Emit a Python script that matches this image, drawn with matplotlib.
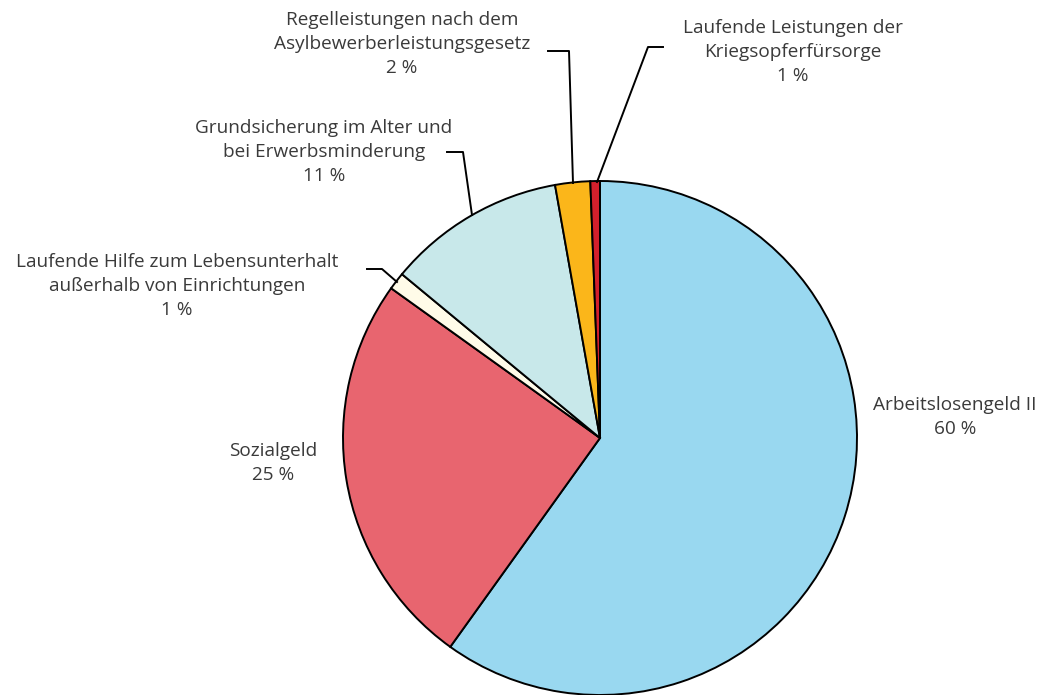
import matplotlib.pyplot as plt

plt.rcParams['font.family'] = ['Open Sans', 'DejaVu Sans']

# Daten (im Uhrzeigersinn ab 12 Uhr)
labels = ['Arbeitslosengeld II', 'Sozialgeld',
          'Laufende Hilfe zum Lebensunterhalt\naußerhalb von Einrichtungen',
          'Grundsicherung im Alter und\nbei Erwerbsminderung',
          'Regelleistungen nach dem\nAsylbewerberleistungsgesetz',
          'Laufende Leistungen der\nKriegsopferfürsorge']
shares = [59.9, 25.0, 1.1, 11.2, 2.2, 0.6]
shown = ['60 %', '25 %', '1 %', '11 %', '2 %', '1 %']
colors = ['#99d8f0', '#e8656f', '#fffbe8', '#c8e8ea', '#fbb61a', '#d4202c']

# Textpositionen (Pixel, y von oben)
text_pos = [(955, 417), (273, 463), (177, 286), (324, 152), (402, 44), (793, 52)]
# Hinweislinien
leaders = [None, None,
           [(367, 269), (382, 269), (397, 282)],
           [(447, 152), (463, 152), (472, 215)],
           [(548, 51), (569, 51), (573, 183)],
           [(663, 47), (648, 47), (597, 182)]]

W, H = 1041, 695
fig = plt.figure(figsize=(W / 100, H / 100), dpi=100)
ax = fig.add_axes([0, 0, 1, 1])

ax.pie(shares, colors=colors, startangle=90, counterclock=False,
       center=(600, H - 438), radius=257, frame=True,
       wedgeprops=dict(edgecolor='black', linewidth=1.4))
ax.set_xlim(0, W)
ax.set_ylim(0, H)
ax.set_aspect('auto')
ax.axis('off')

for lab, s, (x, y), pts in zip(labels, shown, text_pos, leaders):
    ax.text(x, H - y, lab + '\n' + s, ha='center', va='center',
            fontsize=13.7, color='#3a3a3a', linespacing=1.4)
    if pts:
        ax.plot([p[0] for p in pts], [H - p[1] for p in pts],
                color='black', lw=1.4)

plt.savefig('out.png', dpi=100)
